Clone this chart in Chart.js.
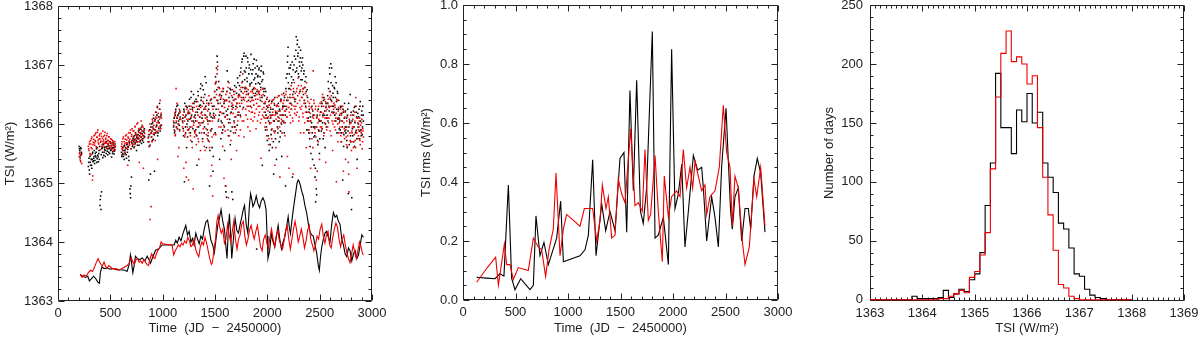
<!DOCTYPE html>
<html>
<head>
<meta charset="utf-8">
<script src="https://cdn.jsdelivr.net/npm/chart.js"></script>
<style>
  html, body { margin: 0; padding: 0; background: #fff; }
  #wrap { position: relative; width: 1200px; height: 337px; overflow: hidden; }
  canvas { position: absolute; top: 0; }
</style>
</head>
<body>
<div id="wrap">
  <canvas id="tsiChart" width="400" height="337" style="left:0"></canvas>
  <canvas id="rmsChart" width="400" height="337" style="left:400px"></canvas>
  <canvas id="histChart" width="400" height="337" style="left:800px"></canvas>
</div>
<script>
// ---- Panel 1: daily TSI (dots) and smoothed TSI (lines) ----
const dotDays = [
  202,208,214,220,226,
  290,296,302,308,314,320,326,332,338,344,
  350,356,362,368,374,380,386,392,398,404,
  410,416,422,428,434,440,446,452,458,464,
  470,476,482,488,494,500,506,512,518,524,
  530,536,542,548,
  606,612,618,624,630,636,642,648,654,660,
  666,672,678,684,690,696,702,708,714,720,
  726,732,738,744,750,756,762,768,774,780,
  786,792,798,804,810,816,822,828,
  862,868,874,880,886,892,898,904,910,916,
  922,928,934,940,946,952,958,964,970,976,
  982,988,
  1104,1110,1116,1122,1128,1134,1140,1146,1152,1158,
  1164,1170,
  1190,1196,1202,1208,1214,1220,1226,1232,1238,1244,
  1250,1256,1262,1268,1274,1280,1286,1292,1298,1304,
  1310,1316,1322,1328,1334,1340,1346,1352,1358,1364,
  1370,1376,1382,1388,1394,1400,1406,1412,1418,1424,
  1430,1436,1442,1448,1454,1460,1466,1472,1478,1484,
  1490,1496,1502,1508,1514,1520,1526,1532,1538,1544,
  1550,1556,1562,1568,1574,1580,1586,1592,1598,1604,
  1610,1616,1622,1628,1634,1640,1646,1652,1658,1664,
  1670,1676,1682,1688,1694,1700,1706,1712,1718,1724,
  1730,1736,1742,1748,1754,1760,1766,1772,1778,1784,
  1790,1796,1802,1808,1814,1820,1826,1832,1838,1844,
  1850,1856,1862,1868,1874,1880,1886,1892,1898,1904,
  1910,1916,1922,1928,1934,1940,1946,1952,1958,1964,
  1970,1976,1982,1988,1994,2000,2006,2012,2018,2024,
  2030,2036,2042,2048,2054,2060,2066,2072,2078,2084,
  2090,2096,2102,2108,2114,2120,2126,2132,2138,2144,
  2150,2156,2162,2168,2174,2180,2186,2192,2198,2204,
  2210,2216,2222,2228,2234,2240,2246,2252,2258,2264,
  2270,2276,2282,2288,2294,2300,2306,2312,2318,2324,
  2330,2336,2342,2348,2354,2360,2366,2372,2378,2384,
  2390,2396,2402,2408,2414,2420,2426,2432,2438,2444,
  2450,2456,2462,2468,2474,2480,2486,2492,2498,2504,
  2510,2516,2522,2528,2534,2540,2546,2552,2558,2564,
  2570,2576,2582,2588,2594,2600,2606,2612,2618,2624,
  2630,2636,2642,2648,2654,2660,2666,2672,2678,2684,
  2690,2696,2702,2708,2714,2720,2726,2732,2738,2744,
  2750,2756,2762,2768,2774,2780,2786,2792,2798,2804,
  2810,2816,2822,2828,2834,2840,2846,2852,2858,2864,
  2870,2876,2882,2888,2894,2900,2906,2912,2918
];

const dotBlack = [
  1365.62,1365.55,1365.48,1365.58,1365.50,
  1365.28,1365.42,1365.15,1365.35,1365.48,1365.30,1365.40,1365.52,1365.38,1365.45,
  1365.33,1365.50,1365.44,1365.58,1365.41,1365.47,1365.36,1365.55,1365.62,1364.72,
  1364.55,1364.85,1365.60,1365.43,1365.66,1365.52,1365.57,1365.45,1365.61,1365.70,
  1365.54,1365.48,1365.63,1365.58,1365.50,1365.67,1365.56,1365.44,1365.60,1365.53,
  1365.64,1365.49,1365.57,1365.62,
  1365.52,1365.48,1365.60,1365.45,1365.55,1365.63,1365.50,1365.58,1365.42,1365.66,
  1365.57,1365.61,1365.38,1365.70,1364.82,1364.95,1365.10,1365.72,1365.65,1365.78,
  1365.60,1365.74,1365.68,1365.82,1365.55,1365.76,1365.70,1365.88,1365.64,1365.80,
  1365.72,1365.91,1365.67,1365.84,1365.75,1365.69,1365.86,1365.78,
  1365.70,1365.05,1365.82,1365.64,1365.95,1365.78,1365.88,1366.02,1365.74,1365.91,
  1365.20,1366.08,1365.85,1365.96,1366.15,1365.80,1366.05,1365.92,1366.35,1365.88,
  1366.12,1365.98,
  1365.95,1366.10,1365.88,1366.20,1366.02,1366.30,1365.92,1366.15,1366.05,1365.98,
  1366.22,1366.08,
  1366.05,1365.92,1366.25,1365.02,1366.12,1365.85,1366.30,1366.00,1365.78,1366.18,
  1366.20,1366.42,1365.95,1366.10,1366.55,1365.70,1366.28,1366.05,1366.35,1365.88,
  1366.15,1365.90,1366.38,1365.30,1366.25,1366.48,1366.02,1365.85,1366.32,1366.68,
  1366.45,1366.10,1365.75,1366.58,1366.25,1365.95,1366.80,1366.30,1365.60,1366.12,
  1366.05,1365.72,1366.35,1364.95,1366.18,1365.88,1366.42,1365.60,1366.10,1365.45,
  1366.30,1366.55,1365.85,1366.70,1366.95,1367.15,1366.40,1366.05,1366.62,1365.40,
  1366.20,1365.75,1366.48,1366.02,1365.90,1366.60,1366.35,1365.55,1366.12,1364.85,
  1364.76,1366.90,1366.25,1365.80,1366.45,1366.08,1365.65,1366.58,1366.30,1365.95,
  1364.72,1366.40,1366.05,1366.65,1365.85,1366.30,1366.52,1365.98,1366.70,1366.15,
  1366.50,1366.82,1366.15,1366.95,1366.40,1367.10,1366.62,1366.28,1367.20,1366.75,
  1366.88,1367.15,1366.55,1366.72,1367.05,1366.40,1366.95,1366.65,1366.30,1367.18,
  1366.70,1366.45,1366.92,1366.60,1367.10,1366.78,1366.52,1366.85,1363.88,1366.98,
  1366.82,1366.55,1366.95,1366.68,1366.40,1366.90,1366.72,1365.30,1366.60,1366.85,
  1366.35,1366.60,1365.90,1366.15,1366.42,1365.72,1366.28,1366.05,1365.55,1366.20,
  1366.10,1365.82,1366.38,1365.60,1366.25,1365.15,1366.05,1366.45,1365.75,1366.18,
  1366.30,1365.95,1366.12,1366.48,1365.70,1366.22,1365.88,1366.40,1365.45,1366.05,
  1366.15,1366.52,1365.85,1366.30,1364.95,1366.78,1366.40,1367.05,1367.30,1366.60,
  1366.85,1366.45,1367.00,1366.25,1366.70,1365.10,1366.92,1366.55,1367.15,1366.38,
  1367.10,1367.48,1366.95,1367.42,1367.20,1366.80,1367.05,1366.55,1367.25,1366.90,
  1366.95,1367.12,1366.60,1366.85,1366.40,1366.72,1366.30,1366.55,1365.90,1366.45,
  1366.10,1365.85,1366.25,1365.62,1366.05,1365.95,1366.30,1365.40,1366.15,1365.78,
  1365.95,1365.10,1364.68,1364.90,1366.12,1365.72,1366.25,1365.88,1365.50,1366.05,
  1366.20,1365.88,1366.35,1366.02,1365.75,1366.45,1366.15,1365.60,1366.28,1365.95,
  1366.15,1366.48,1366.72,1366.30,1366.95,1366.55,1367.02,1366.40,1366.20,1366.65,
  1366.45,1366.20,1366.60,1366.80,1366.05,1366.38,1365.85,1366.52,1366.25,1366.10,
  1366.15,1365.90,1366.28,1365.70,1366.05,1365.05,1366.20,1365.82,1366.35,1365.95,
  1365.85,1366.10,1365.60,1366.25,1364.82,1365.95,1366.05,1366.50,1365.70,1364.55,
  1366.05,1365.80,1366.22,1365.95,1365.62,1366.30,1365.88,1366.12,1365.40,1366.18,
  1366.00,1366.25,1365.75,1366.38,1365.90,1366.15,1365.82,1366.30,1366.05
];

const dotRed = [
  1365.45,1365.52,1365.38,1365.47,1365.33,
  1365.62,1365.55,1365.70,1365.48,1365.66,1365.75,1365.58,1365.12,1365.69,1365.80,
  1365.64,1365.72,1365.85,1365.60,1365.77,1365.90,1365.68,1365.74,1365.83,1365.56,
  1365.71,1365.79,1365.65,1365.88,1365.73,1365.62,1365.81,1365.70,1365.76,1365.59,
  1365.84,1365.67,1365.72,1365.78,1365.63,1365.69,1365.58,1365.74,1365.66,1365.71,
  1365.55,1365.64,1365.70,1365.61,
  1365.62,1365.70,1365.55,1365.78,1365.48,1365.66,1365.74,1365.59,1365.82,1365.68,
  1365.30,1365.76,1365.71,1365.64,1365.85,1365.58,1365.79,1365.92,1365.67,1365.73,
  1365.88,1365.62,1365.96,1365.75,1365.81,1365.69,1366.02,1365.77,1365.86,1365.70,
  1365.93,1365.83,1365.74,1365.98,1365.80,1365.25,1365.89,1365.84,
  1365.76,1365.88,1365.62,1364.38,1365.85,1365.95,1365.70,1366.05,1365.83,1365.98,
  1365.90,1365.72,1366.12,1365.87,1366.02,1365.40,1366.18,1365.95,1366.08,1366.40,
  1365.92,1366.10,
  1366.05,1365.90,1366.18,1365.82,1366.60,1365.95,1366.12,1365.45,1366.00,1366.25,
  1365.88,1366.08,
  1365.95,1366.15,1365.25,1366.05,1365.82,1366.30,1365.10,1366.08,1365.90,1366.22,
  1366.08,1365.85,1366.25,1365.72,1366.12,1365.95,1366.35,1364.90,1366.02,1365.78,
  1365.88,1366.20,1365.65,1366.05,1366.38,1365.75,1365.40,1366.12,1365.98,1366.28,
  1366.02,1366.30,1365.70,1365.92,1366.45,1366.15,1365.55,1366.25,1365.82,1366.08,
  1366.22,1365.85,1366.48,1365.60,1366.05,1365.12,1366.35,1365.78,1364.78,1366.15,
  1366.45,1366.10,1366.68,1365.82,1366.50,1366.85,1366.98,1366.25,1365.95,1366.60,
  1366.35,1365.95,1366.55,1366.18,1365.62,1366.42,1365.08,1366.28,1365.88,1366.50,
  1366.15,1366.55,1365.90,1364.75,1366.70,1366.38,1366.02,1365.72,1366.48,1366.25,
  1366.32,1365.85,1366.50,1366.12,1365.95,1366.42,1365.55,1366.28,1366.05,1366.45,
  1366.20,1366.48,1365.90,1366.62,1366.35,1366.05,1366.85,1366.42,1365.78,1366.55,
  1366.45,1366.15,1366.60,1366.30,1365.95,1366.52,1366.22,1366.65,1366.38,1366.08,
  1366.28,1366.55,1366.05,1366.40,1366.62,1366.18,1366.48,1365.92,1366.35,1366.58,
  1366.42,1366.15,1366.55,1366.30,1366.02,1365.42,1366.48,1366.25,1366.60,1366.12,
  1366.20,1365.95,1366.38,1366.10,1365.80,1366.45,1366.22,1365.65,1366.32,1366.00,
  1366.28,1366.02,1365.75,1366.40,1366.15,1365.88,1366.35,1365.30,1366.22,1366.08,
  1366.18,1366.45,1365.92,1366.30,1366.10,1365.10,1366.38,1366.02,1366.50,1366.25,
  1366.35,1366.05,1366.48,1365.80,1366.22,1366.55,1366.12,1365.45,1366.40,1366.28,
  1366.20,1366.50,1366.02,1366.65,1366.32,1366.10,1365.15,1366.45,1366.70,1366.25,
  1366.42,1366.15,1366.60,1366.35,1366.78,1366.05,1366.52,1366.28,1365.85,1366.65,
  1366.30,1366.55,1366.12,1365.85,1366.40,1366.62,1366.20,1365.60,1366.48,1366.05,
  1366.20,1365.90,1366.35,1366.05,1365.25,1366.28,1365.75,1366.12,1366.90,1366.40,
  1366.15,1365.85,1366.30,1365.05,1365.95,1366.22,1365.70,1366.08,1365.40,1366.35,
  1366.05,1366.38,1365.92,1366.50,1366.18,1365.80,1366.42,1366.10,1365.35,1366.30,
  1366.25,1365.95,1366.42,1366.10,1366.55,1365.88,1366.30,1366.48,1366.05,1365.55,
  1366.18,1366.35,1365.95,1366.28,1366.10,1365.02,1366.40,1366.00,1366.22,1365.85,
  1366.08,1366.25,1365.80,1366.15,1365.95,1366.30,1365.20,1366.02,1365.75,1366.20,
  1365.90,1365.65,1366.12,1365.80,1365.35,1364.85,1366.00,1365.72,1366.15,1365.55,
  1365.85,1366.08,1365.60,1365.95,1366.20,1365.72,1366.45,1365.90,1365.25,1366.02,
  1365.80,1365.95,1366.10,1365.65,1365.88,1366.02,1365.58,1365.92,1365.78
];

// the in-between days of the same daily record
const dotDaysAlt = [
  205,211,217,223,
  293,299,305,311,317,323,329,335,341,347,
  353,359,365,371,377,383,389,395,401,407,
  413,419,425,431,437,443,449,455,461,467,
  473,479,485,491,497,503,509,515,521,527,
  533,539,545,
  609,615,621,627,633,639,645,651,657,663,
  669,675,681,687,693,699,705,711,717,723,
  729,735,741,747,753,759,765,771,777,783,
  789,795,801,807,813,819,825,
  865,871,877,883,889,895,901,907,913,919,
  925,931,937,943,949,955,961,967,973,979,
  985,
  1107,1113,1119,1125,1131,1137,1143,1149,1155,1161,
  1167,
  1193,1199,1205,1211,1217,1223,1229,1235,1241,1247,
  1253,1259,1265,1271,1277,1283,1289,1295,1301,1307,
  1313,1319,1325,1331,1337,1343,1349,1355,1361,1367,
  1373,1379,1385,1391,1397,1403,1409,1415,1421,1427,
  1433,1439,1445,1451,1457,1463,1469,1475,1481,1487,
  1493,1499,1505,1511,1517,1523,1529,1535,1541,1547,
  1553,1559,1565,1571,1577,1583,1589,1595,1601,1607,
  1613,1619,1625,1631,1637,1643,1649,1655,1661,1667,
  1673,1679,1685,1691,1697,1703,1709,1715,1721,1727,
  1733,1739,1745,1751,1757,1763,1769,1775,1781,1787,
  1793,1799,1805,1811,1817,1823,1829,1835,1841,1847,
  1853,1859,1865,1871,1877,1883,1889,1895,1901,1907,
  1913,1919,1925,1931,1937,1943,1949,1955,1961,1967,
  1973,1979,1985,1991,1997,2003,2009,2015,2021,2027,
  2033,2039,2045,2051,2057,2063,2069,2075,2081,2087,
  2093,2099,2105,2111,2117,2123,2129,2135,2141,2147,
  2153,2159,2165,2171,2177,2183,2189,2195,2201,2207,
  2213,2219,2225,2231,2237,2243,2249,2255,2261,2267,
  2273,2279,2285,2291,2297,2303,2309,2315,2321,2327,
  2333,2339,2345,2351,2357,2363,2369,2375,2381,2387,
  2393,2399,2405,2411,2417,2423,2429,2435,2441,2447,
  2453,2459,2465,2471,2477,2483,2489,2495,2501,2507,
  2513,2519,2525,2531,2537,2543,2549,2555,2561,2567,
  2573,2579,2585,2591,2597,2603,2609,2615,2621,2627,
  2633,2639,2645,2651,2657,2663,2669,2675,2681,2687,
  2693,2699,2705,2711,2717,2723,2729,2735,2741,2747,
  2753,2759,2765,2771,2777,2783,2789,2795,2801,2807,
  2813,2819,2825,2831,2837,2843,2849,2855,2861,2867,
  2873,2879,2885,2891,2897,2903,2909,2915
];

const dotBlackAlt = [
  1365.58,1365.44,1365.60,1365.52,
  1365.35,1365.22,1365.45,1365.30,1365.40,1365.25,1365.50,1365.36,1365.42,1365.55,
  1365.38,1365.46,1365.52,1365.35,1365.60,1365.44,1365.50,1365.40,1364.62,1364.78,
  1365.48,1365.58,1365.52,1365.65,1365.47,1365.60,1365.55,1365.68,1365.50,1365.62,
  1365.58,1365.66,1365.52,1365.60,1365.70,1365.55,1365.63,1365.58,1365.50,1365.68,
  1365.60,1365.54,1365.66,
  1365.45,1365.58,1365.50,1365.62,1365.40,1365.55,1365.60,1365.48,1365.65,1365.52,
  1365.62,1365.45,1365.68,1364.90,1364.75,1365.58,1365.68,1365.62,1365.75,1365.70,
  1365.80,1365.66,1365.85,1365.72,1365.78,1365.64,1365.82,1365.75,1365.90,1365.70,
  1365.85,1365.78,1365.95,1365.72,1365.88,1365.80,1365.92,
  1365.78,1365.62,1365.90,1365.15,1365.85,1366.00,1365.72,1365.95,1366.10,1365.82,
  1366.05,1365.90,1366.20,1365.98,1366.28,1365.85,1366.12,1366.02,1366.25,1365.95,
  1366.15,
  1366.02,1365.85,1366.15,1366.25,1365.95,1366.10,1366.32,1366.00,1366.18,1365.90,
  1366.12,
  1366.10,1365.80,1366.22,1366.35,1365.95,1366.15,1365.60,1366.28,1366.05,1365.90,
  1366.30,1366.08,1365.85,1366.45,1366.15,1366.25,1365.92,1366.50,1366.12,1366.38,
  1366.05,1366.42,1365.80,1366.20,1366.55,1365.95,1366.30,1366.12,1366.60,1366.40,
  1366.20,1366.65,1366.02,1366.35,1365.85,1366.50,1366.15,1366.70,1366.40,1365.90,
  1365.80,1366.25,1366.05,1365.55,1366.40,1366.12,1365.92,1366.30,1365.20,1366.18,
  1366.12,1366.45,1366.80,1366.25,1366.58,1367.05,1366.35,1366.72,1366.15,1366.50,
  1366.42,1366.05,1366.30,1365.85,1366.55,1366.18,1365.95,1366.40,1364.95,1366.22,
  1366.55,1366.15,1366.72,1366.02,1366.38,1366.60,1365.88,1366.20,1364.85,1366.45,
  1366.28,1366.55,1365.95,1366.42,1366.12,1366.62,1366.35,1366.78,1366.20,1366.48,
  1366.65,1366.30,1366.88,1366.55,1367.05,1366.72,1366.45,1367.15,1366.90,1366.60,
  1366.62,1366.95,1366.78,1367.12,1366.50,1366.85,1367.00,1366.68,1366.92,1366.45,
  1366.85,1366.58,1367.02,1366.75,1366.48,1366.95,1366.68,1367.08,1366.55,1366.80,
  1366.70,1366.92,1366.50,1366.80,1366.62,1366.98,1366.45,1366.75,1366.88,1366.55,
  1366.48,1366.20,1366.55,1365.95,1366.30,1366.10,1365.80,1366.38,1366.02,1365.65,
  1366.25,1365.90,1366.15,1366.40,1365.70,1366.05,1366.32,1365.88,1366.20,1365.40,
  1366.18,1365.85,1366.35,1366.05,1366.25,1365.78,1366.42,1366.00,1366.15,1366.30,
  1366.30,1366.02,1366.45,1366.15,1366.60,1366.25,1366.85,1367.15,1366.70,1366.95,
  1366.60,1366.95,1366.35,1366.80,1367.05,1366.50,1366.75,1367.00,1366.42,1366.88,
  1367.25,1366.90,1367.35,1367.15,1366.85,1367.30,1366.98,1367.12,1366.75,1367.05,
  1366.75,1367.00,1366.50,1366.90,1366.62,1366.35,1366.80,1366.20,1366.58,1366.05,
  1365.90,1366.20,1365.75,1366.12,1365.50,1366.02,1365.85,1366.22,1365.95,1365.30,
  1365.80,1365.25,1365.95,1364.80,1366.15,1365.65,1365.90,1366.05,1365.75,1366.20,
  1366.05,1366.30,1365.92,1366.15,1366.40,1365.85,1366.22,1366.00,1366.35,1366.10,
  1366.35,1366.05,1366.60,1366.22,1366.85,1366.42,1366.70,1366.95,1366.30,1366.52,
  1366.30,1366.62,1366.15,1366.45,1366.70,1366.25,1366.55,1366.08,1366.40,1365.92,
  1366.05,1366.30,1365.85,1366.18,1365.95,1366.25,1365.62,1366.10,1365.88,1366.22,
  1365.95,1365.72,1366.15,1365.88,1366.35,1365.65,1366.02,1365.80,1366.20,1364.75,
  1365.92,1366.15,1365.70,1366.28,1366.02,1365.85,1366.20,1365.75,1366.10,1365.95,
  1366.12,1365.88,1366.30,1366.05,1365.80,1366.22,1365.95,1366.15
];

const dotRedAlt = [
  1365.50,1365.41,1365.36,1365.48,
  1365.58,1365.66,1365.50,1365.72,1365.60,1365.78,1365.05,1365.65,1365.74,1365.68,
  1365.82,1365.70,1365.62,1365.78,1365.86,1365.72,1365.66,1365.80,1365.75,1365.69,
  1365.84,1365.62,1365.76,1365.70,1365.79,1365.67,1365.86,1365.74,1365.68,1365.80,
  1365.72,1365.65,1365.78,1365.70,1365.60,1365.75,1365.68,1365.64,1365.72,1365.58,
  1365.67,1365.62,1365.56,
  1365.66,1365.58,1365.75,1365.62,1365.70,1365.52,1365.80,1365.68,1365.73,1365.60,
  1365.78,1365.85,1365.66,1365.74,1365.90,1365.70,1365.82,1365.65,1365.88,1365.78,
  1365.72,1365.95,1365.84,1365.70,1366.00,1365.80,1365.74,1365.92,1365.35,1365.85,
  1365.78,1366.05,1365.88,1365.82,1365.95,1365.76,1365.90,
  1365.82,1365.70,1366.00,1365.90,1364.60,1365.78,1366.08,1365.92,1366.15,1365.85,
  1366.05,1366.20,1365.95,1366.10,1366.30,1365.88,1366.02,1366.25,1366.12,1365.98,
  1366.18,
  1365.98,1366.12,1365.80,1366.22,1366.05,1366.35,1365.92,1366.15,1365.60,1366.08,
  1366.20,
  1366.02,1365.88,1366.20,1365.78,1366.12,1365.35,1366.25,1365.95,1366.18,1365.05,
  1365.92,1366.18,1365.80,1366.30,1366.05,1365.60,1366.22,1365.98,1366.28,1365.85,
  1366.10,1365.82,1366.30,1365.95,1366.15,1365.70,1366.25,1366.02,1365.55,1366.18,
  1365.85,1366.15,1366.38,1366.05,1365.62,1366.28,1366.10,1365.92,1366.35,1365.75,
  1366.00,1366.32,1365.70,1366.15,1365.90,1366.42,1365.30,1366.05,1366.25,1365.82,
  1366.30,1366.55,1366.15,1366.72,1366.40,1366.92,1366.62,1366.08,1366.48,1366.20,
  1366.20,1366.45,1365.85,1366.30,1366.60,1365.98,1366.38,1366.12,1364.95,1366.40,
  1366.40,1366.08,1366.62,1366.30,1365.80,1366.52,1366.18,1365.40,1366.35,1366.58,
  1366.18,1366.40,1366.02,1366.55,1366.25,1365.90,1366.35,1366.15,1366.48,1365.80,
  1366.35,1366.58,1366.12,1366.45,1366.70,1366.25,1366.52,1366.05,1366.40,1366.62,
  1366.25,1366.50,1366.38,1366.08,1366.58,1366.30,1366.45,1365.88,1366.55,1366.20,
  1366.40,1366.20,1366.52,1366.32,1366.12,1366.60,1366.42,1366.25,1366.50,1366.05,
  1366.30,1366.52,1366.20,1366.45,1366.58,1366.08,1366.38,1366.15,1366.50,1366.28,
  1366.10,1366.35,1366.02,1366.25,1365.90,1366.30,1366.12,1365.75,1366.40,1366.15,
  1366.12,1366.35,1365.92,1366.20,1366.05,1366.42,1365.85,1366.15,1365.60,1366.30,
  1366.32,1366.05,1366.22,1366.48,1365.95,1366.15,1366.40,1366.08,1365.85,1366.28,
  1366.15,1366.40,1366.22,1366.02,1366.50,1366.30,1366.12,1366.45,1366.28,1365.25,
  1366.35,1366.15,1366.58,1366.25,1366.45,1366.05,1366.60,1366.30,1366.18,1366.52,
  1366.30,1366.55,1366.20,1366.48,1366.65,1366.12,1366.40,1366.58,1366.25,1366.45,
  1366.45,1366.18,1366.60,1366.35,1366.02,1366.52,1366.28,1366.70,1366.10,1366.38,
  1366.05,1366.30,1365.85,1366.18,1366.42,1365.95,1366.25,1365.60,1366.10,1366.35,
  1365.92,1366.25,1365.78,1366.10,1365.20,1366.02,1366.30,1365.88,1366.15,1365.95,
  1366.20,1365.95,1366.45,1366.12,1366.30,1365.85,1366.02,1366.38,1366.22,1365.90,
  1366.10,1366.35,1366.02,1366.28,1366.45,1366.15,1365.80,1366.38,1366.20,1366.00,
  1366.25,1366.05,1366.32,1365.90,1366.18,1366.42,1366.10,1365.70,1366.28,1366.02,
  1365.95,1366.18,1365.70,1366.30,1366.05,1365.85,1366.22,1365.92,1366.12,1365.40,
  1365.78,1366.05,1365.62,1365.95,1365.15,1366.08,1365.85,1365.70,1366.02,1365.88,
  1365.95,1365.70,1366.15,1365.82,1366.05,1365.60,1366.30,1365.85,1366.10,1365.75,
  1365.90,1366.05,1365.72,1365.98,1365.85,1366.08,1365.70,1365.88
];

const smoothBlackDays = [
  211,230,260,285,300,320,340,360,380,395,
  405,420,440,470,500,530,560,600,640,660,
  680,692,705,715,728,740,760,780,804,830,
  852,870,884,900,932,960,996,1050,1110,1125,
  1140,1157,1175,1195,1221,1237,1253,1270,1285,1300,
  1317,1333,1349,1365,1381,1397,1413,1429,1445,1461,
  1478,1494,1510,1526,1542,1558,1574,1590,1603,1615,
  1627,1638,1650,1660,1676,1692,1708,1724,1740,1756,
  1770,1782,1798,1814,1828,1840,1852,1862,1878,1894,
  1910,1926,1942,1958,1974,1988,1998,2006,2022,2038,
  2055,2071,2087,2103,2119,2135,2151,2167,2183,2199,
  2210,2221,2234,2247,2260,2272,2284,2295,2306,2317,
  2330,2343,2359,2375,2391,2407,2423,2439,2455,2471,
  2487,2497,2508,2520,2535,2551,2567,2583,2599,2615,
  2631,2647,2663,2679,2695,2711,2727,2743,2759,2775,
  2791,2807,2823,2839,2855,2871,2887,2903,2919
];
const smoothBlack = [
  1363.45,1363.43,1363.40,1363.42,1363.34,1363.38,1363.42,1363.38,1363.32,1363.30,
  1363.48,1363.58,1363.55,1363.56,1363.54,1363.55,1363.53,1363.53,1363.52,1363.50,
  1363.62,1363.78,1363.62,1363.48,1363.60,1363.76,1363.72,1363.70,1363.73,1363.68,
  1363.76,1363.70,1363.64,1363.72,1363.86,1363.88,1363.95,1363.95,1363.95,1364.03,
  1363.98,1364.08,1364.02,1364.15,1364.28,1364.12,1364.18,1364.00,1364.06,1363.95,
  1364.15,1364.05,1363.97,1364.10,1364.05,1364.22,1364.34,1364.37,1364.20,1364.03,
  1363.95,1363.82,1364.05,1364.28,1364.40,1364.55,1364.35,1364.22,1363.95,1363.72,
  1364.20,1364.48,1364.10,1363.72,1364.05,1364.40,1364.20,1364.15,1364.30,1364.42,
  1364.55,1364.62,1364.30,1364.15,1364.60,1364.82,1364.72,1364.60,1364.66,1364.78,
  1364.65,1364.58,1364.70,1364.75,1364.68,1364.55,1364.10,1363.72,1363.85,1364.14,
  1364.00,1363.92,1364.10,1364.28,1364.05,1363.88,1364.00,1364.09,1364.25,1364.43,
  1364.25,1364.14,1364.35,1364.54,1364.70,1364.85,1365.00,1365.05,1365.02,1364.95,
  1364.85,1364.78,1364.62,1364.50,1364.32,1364.18,1364.12,1364.10,1363.95,1363.82,
  1363.60,1363.52,1363.75,1363.92,1364.05,1364.15,1364.18,1364.08,1364.00,1364.30,
  1364.50,1364.42,1364.45,1364.35,1364.30,1364.05,1363.95,1363.80,1363.75,1363.90,
  1363.85,1363.68,1363.80,1363.85,1363.72,1363.78,1363.95,1364.12,1364.08
];

const smoothRedDays = [
  211,230,250,270,290,310,330,350,365,383,
  397,410,425,440,455,470,485,500,520,540,
  560,580,600,620,640,660,680,700,715,730,
  745,760,775,790,805,820,835,850,865,880,
  895,910,925,940,955,970,985,1000,1040,1090,
  1105,1120,1135,1150,1165,1180,1195,1210,1225,1240,
  1255,1270,1285,1300,1315,1330,1345,1360,1375,1390,
  1405,1420,1435,1450,1465,1475,1490,1505,1518,1530,
  1545,1560,1575,1590,1605,1620,1635,1650,1665,1680,
  1695,1710,1725,1740,1755,1770,1785,1800,1815,1830,
  1845,1860,1875,1890,1905,1920,1935,1950,1965,1980,
  1995,2010,2025,2040,2055,2070,2085,2100,2115,2130,
  2145,2160,2175,2190,2205,2220,2235,2250,2265,2280,
  2295,2310,2325,2340,2355,2370,2385,2400,2415,2430,
  2445,2460,2475,2490,2505,2520,2535,2550,2565,2580,
  2595,2610,2625,2640,2655,2670,2685,2700,2715,2730,
  2745,2760,2775,2790,2805,2820,2835,2850,2865,2880,
  2895,2910,2919
];
const smoothRed = [
  1363.45,1363.40,1363.44,1363.42,1363.48,1363.52,1363.50,1363.58,1363.65,1363.72,
  1363.66,1363.62,1363.60,1363.66,1363.58,1363.56,1363.60,1363.58,1363.55,1363.54,
  1363.55,1363.52,1363.54,1363.56,1363.58,1363.60,1363.64,1363.74,1363.66,1363.62,
  1363.70,1363.72,1363.66,1363.68,1363.64,1363.70,1363.66,1363.62,1363.60,1363.72,
  1363.80,1363.74,1363.72,1363.80,1363.86,1363.90,1364.00,1363.97,1363.96,1363.95,
  1363.78,1363.85,1363.90,1363.95,1363.92,1363.98,1363.95,1364.02,1363.98,1364.08,
  1364.02,1363.92,1363.95,1364.05,1363.88,1363.80,1363.75,1363.92,1364.00,1363.95,
  1364.08,1363.98,1363.85,1363.72,1363.62,1363.65,1363.85,1364.05,1364.35,1364.45,
  1364.25,1364.15,1364.22,1363.98,1364.05,1364.30,1364.12,1364.00,1364.18,1364.35,
  1364.05,1363.88,1364.05,1364.12,1364.30,1364.35,1364.10,1363.95,1364.05,1364.20,
  1364.28,1364.15,1364.05,1364.18,1364.28,1364.10,1363.92,1363.85,1364.05,1364.12,
  1363.98,1363.90,1364.08,1364.22,1364.05,1363.92,1364.10,1364.20,1364.02,1363.95,
  1363.88,1364.02,1364.20,1364.28,1364.05,1363.88,1364.05,1364.22,1364.35,1364.20,
  1364.00,1364.10,1364.22,1364.08,1363.90,1364.02,1364.20,1364.28,1364.05,1363.95,
  1363.85,1363.95,1364.10,1364.05,1364.22,1364.30,1364.10,1363.98,1364.12,1364.18,
  1363.95,1363.90,1364.08,1364.22,1364.32,1364.25,1364.05,1363.92,1364.05,1364.12,
  1363.95,1363.82,1363.72,1363.65,1363.80,1363.95,1363.82,1363.72,1363.85,1364.00,
  1363.92,1363.80,1363.78
];

// ---- Panel 2: TSI rms ----
const rmsBlackDays = [
  130,225,305,352,390,432,463,495,549,638,
  670,695,733,771,813,892,930,956,1114,1162,
  1194,1235,1267,1321,1359,1400,1448,1495,1533,1559,
  1590,1622,1654,1690,1717,1749,1803,1829,1860,1908,
  1956,1987,2019,2051,2083,2114,2146,2194,2235,2273,
  2289,2321,2368,2400,2432,2463,2505,2527,2549,2565,
  2590,2622,2654,2686,2717,2740,2771,2803,2835,2876
];
const rmsBlack = [
  0.077,0.074,0.072,0.089,0.081,0.39,0.074,0.035,0.072,0.035,
  0.05,0.285,0.151,0.195,0.12,0.21,0.335,0.13,0.15,0.17,
  0.22,0.475,0.15,0.325,0.235,0.3,0.235,0.48,0.5,0.23,
  0.71,0.37,0.745,0.3,0.26,0.38,0.91,0.21,0.22,0.28,
  0.12,0.85,0.31,0.36,0.46,0.18,0.3,0.49,0.44,0.45,
  0.38,0.2,0.35,0.28,0.18,0.45,0.65,0.47,0.3,0.24,
  0.35,0.38,0.2,0.31,0.31,0.24,0.42,0.48,0.43,0.23
];
const rmsRedDays = [
  130,232,311,337,394,416,448,479,527,622,
  670,717,749,787,819,860,886,924,956,987,
  1114,1156,1235,1273,1305,1327,1362,1384,1416,1448,
  1479,1511,1543,1597,1638,1670,1708,1733,1765,1787,
  1829,1860,1898,1917,1956,1987,2035,2067,2098,2130,
  2162,2187,2210,2241,2273,2305,2321,2352,2400,2441,
  2479,2511,2543,2565,2590,2622,2660,2686,2727,2771,
  2797,2835,2876
];
const rmsRed = [
  0.06,0.11,0.145,0.05,0.19,0.12,0.12,0.07,0.11,0.10,
  0.21,0.18,0.17,0.08,0.17,0.24,0.43,0.15,0.24,0.29,
  0.25,0.31,0.31,0.2,0.27,0.39,0.31,0.35,0.21,0.22,
  0.41,0.36,0.33,0.58,0.32,0.33,0.3,0.51,0.27,0.29,
  0.49,0.3,0.13,0.42,0.28,0.35,0.37,0.35,0.51,0.38,
  0.45,0.38,0.47,0.42,0.37,0.39,0.29,0.35,0.37,0.45,
  0.66,0.5,0.45,0.25,0.42,0.38,0.2,0.12,0.18,0.41,
  0.35,0.45,0.25
];

// ---- Panel 3: histogram of daily TSI (bin edges 1363.0 ... 1368.0) ----
const histEdges = [
  1363.0,1363.1,1363.2,1363.3,1363.4,1363.5,1363.6,1363.7,1363.8,1363.9,
  1364.0,1364.1,1364.2,1364.3,1364.4,1364.5,1364.6,1364.7,1364.8,1364.9,
  1365.0,1365.1,1365.2,1365.3,1365.4,1365.5,1365.6,1365.7,1365.8,1365.9,
  1366.0,1366.1,1366.2,1366.3,1366.4,1366.5,1366.6,1366.7,1366.8,1366.9,
  1367.0,1367.1,1367.2,1367.3,1367.4,1367.5,1367.6,1367.7,1367.8,1367.9,
  1368.0
];
const histBlack = [
  0,0,0,0,0,0,0,0,0,3,
  1,1,1,1,2,8,2,5,9,7,
  17,22,40,80,116,192,146,146,124,161,
  151,175,150,159,116,104,91,65,60,44,
  22,20,9,4,2,1,0,0,0,0
];
const histRed = [
  0,0,0,0,0,0,0,0,0,0,
  0,0,0,0,1,1,3,5,8,6,
  19,24,38,57,111,172,209,228,202,206,
  200,183,190,146,104,72,42,13,10,3,
  1,0,0,0,0,0,0,0,0,0
];

// ---- axis ticks ----
const timeTicks = [0, 500, 1000, 1500, 2000, 2500, 3000];
const timeLabels = ['0', '500', '1000', '1500', '2000', '2500', '3000'];
const tsiTicks = [1363, 1364, 1365, 1366, 1367, 1368];
const tsiLabels = ['1363', '1364', '1365', '1366', '1367', '1368'];
const rmsTicks = [0, 0.2, 0.4, 0.6, 0.8, 1.0];
const rmsLabels = ['0.0', '0.2', '0.4', '0.6', '0.8', '1.0'];
const histXTicks = [1363, 1364, 1365, 1366, 1367, 1368, 1369];
const histXLabels = ['1363', '1364', '1365', '1366', '1367', '1368', '1369'];
const daysTicks = [0, 50, 100, 150, 200, 250];
const daysLabels = ['0', '50', '100', '150', '200', '250'];

const FONT = "'Liberation Sans', Arial, sans-serif";
const TEXT = '#222';
const RED = '#ee0000';
const BLACK = '#000';

function pts(xs, ys) {
  return xs.map((x, i) => ({ x: x, y: ys[i] }));
}

function histPts(edges, counts) {
  const out = counts.map((c, i) => ({ x: edges[i], y: c }));
  out.push({ x: edges[edges.length - 1], y: counts[counts.length - 1] });
  return out;
}

// IDL-style box with inward ticks on all four sides
function eachTick(spec, fn) {
  const [start, end, step, every] = spec;
  const n = Math.round((end - start) / step);
  for (let i = 0; i <= n; i++) fn(start + i * step, i % every === 0 ? 6 : 3);
}

const frameTicks = {
  id: 'frameTicks',
  beforeDatasetsDraw(chart, args, opts) {
    const { ctx, chartArea: a, scales: { x, y } } = chart;
    const L = Math.round(a.left) + 0.5, R = Math.round(a.right) - 0.5;
    const T = Math.round(a.top) + 0.5, B = Math.round(a.bottom) - 0.5;
    ctx.save();
    ctx.strokeStyle = '#222';
    ctx.lineWidth = 1;
    ctx.beginPath();
    ctx.rect(L, T, R - L, B - T);
    eachTick(opts.x, (v, len) => {
      const px = Math.round(x.getPixelForValue(v)) + 0.5;
      ctx.moveTo(px, B); ctx.lineTo(px, B - len);
      ctx.moveTo(px, T); ctx.lineTo(px, T + len);
    });
    eachTick(opts.y, (v, len) => {
      const py = Math.round(y.getPixelForValue(v)) + 0.5;
      ctx.moveTo(L, py); ctx.lineTo(L + len, py);
      ctx.moveTo(R, py); ctx.lineTo(R - len, py);
    });
    ctx.stroke();
    ctx.restore();
  }
};

function buildScale(ax, horizontal, size) {
  return {
    type: 'linear',
    bounds: 'data',
    min: ax.min,
    max: ax.max,
    grid: { display: false, drawTicks: false },
    border: { display: false },
    afterBuildTicks: s => { s.ticks = ax.ticks.map(v => ({ value: v })); },
    afterFit: s => {
      if (horizontal) s.height = size; else s.width = size;
      s.paddingLeft = 0; s.paddingRight = 0; s.paddingTop = 0; s.paddingBottom = 0;
    },
    ticks: {
      autoSkip: false,
      maxRotation: 0,
      padding: ax.tickPad,
      color: TEXT,
      font: { family: FONT, size: 13 },
      callback: (v, i) => ax.labels[i]
    },
    title: {
      display: true,
      text: ax.title,
      color: TEXT,
      font: { family: FONT, size: 13 },
      padding: ax.titlePad
    }
  };
}

function makeChart(canvasId, area, xAxis, yAxis, datasets, minor) {
  const canvas = document.getElementById(canvasId);
  const W = canvas.width, H = canvas.height;
  return new Chart(canvas, {
    type: 'line',
    data: { datasets: datasets },
    options: {
      responsive: false,
      animation: false,
      events: [],
      layout: { padding: { left: 0, top: area.top, right: W - area.right, bottom: 0 } },
      plugins: {
        legend: { display: false },
        tooltip: { enabled: false },
        frameTicks: minor
      },
      scales: {
        x: buildScale(xAxis, true, H - area.bottom),
        y: buildScale(yAxis, false, area.left)
      }
    },
    plugins: [frameTicks]
  });
}

function lineSet(data, color, width) {
  return { data: data, borderColor: color, borderWidth: width, pointRadius: 0, tension: 0, fill: false };
}

function dotSet(data, color) {
  return {
    data: data, showLine: false, pointStyle: 'rect', pointRadius: 1.1,
    pointBackgroundColor: color, pointBorderWidth: 0, borderColor: color
  };
}

const timeTitle = 'Time  (JD  \u2212  2450000)';

// Panel 1
makeChart('tsiChart',
  { left: 58, right: 372, top: 6, bottom: 301 },
  { min: 0, max: 3000, ticks: timeTicks, labels: timeLabels, title: timeTitle, tickPad: 5, titlePad: { top: 0, bottom: 1 } },
  { min: 1363, max: 1368, ticks: tsiTicks, labels: tsiLabels, title: 'TSI (W/m\u00b2)', tickPad: 5, titlePad: { top: 3, bottom: 0 } },
  [
    lineSet(pts(smoothRedDays, smoothRed), RED, 1.1),
    lineSet(pts(smoothBlackDays, smoothBlack), BLACK, 1.1),
    dotSet(pts(dotDays, dotRed).concat(pts(dotDaysAlt, dotRedAlt)), RED),
    dotSet(pts(dotDays, dotBlack).concat(pts(dotDaysAlt, dotBlackAlt)), BLACK)
  ],
  { x: [0, 3000, 100, 5], y: [1363, 1368, 0.2, 5] }
);

// Panel 2
makeChart('rmsChart',
  { left: 63, right: 378, top: 5, bottom: 300 },
  { min: 0, max: 3000, ticks: timeTicks, labels: timeLabels, title: timeTitle, tickPad: 5, titlePad: { top: 0, bottom: 1 } },
  { min: 0, max: 1, ticks: rmsTicks, labels: rmsLabels, title: 'TSI rms (W/m\u00b2)', tickPad: 5, titlePad: { top: 19, bottom: 0 } },
  [
    lineSet(pts(rmsRedDays, rmsRed), RED, 1.1),
    lineSet(pts(rmsBlackDays, rmsBlack), BLACK, 1.1)
  ],
  { x: [0, 3000, 100, 5], y: [0, 1, 0.05, 4] }
);

// Panel 3
const histRedSet = lineSet(histPts(histEdges, histRed), RED, 1.1);
histRedSet.stepped = 'after';
const histBlackSet = lineSet(histPts(histEdges, histBlack), BLACK, 1.1);
histBlackSet.stepped = 'after';

makeChart('histChart',
  { left: 70, right: 384, top: 5, bottom: 301 },
  { min: 1363, max: 1369, ticks: histXTicks, labels: histXLabels, title: 'TSI (W/m\u00b2)', tickPad: 5, titlePad: { top: 0, bottom: 1 } },
  { min: -1, max: 250, ticks: daysTicks, labels: daysLabels, title: 'Number of days', tickPad: 7, titlePad: { top: 22, bottom: 0 } },
  [histRedSet, histBlackSet],
  { x: [1363, 1369, 0.1, 10], y: [0, 250, 10, 5] }
);
</script>
</body>
</html>
